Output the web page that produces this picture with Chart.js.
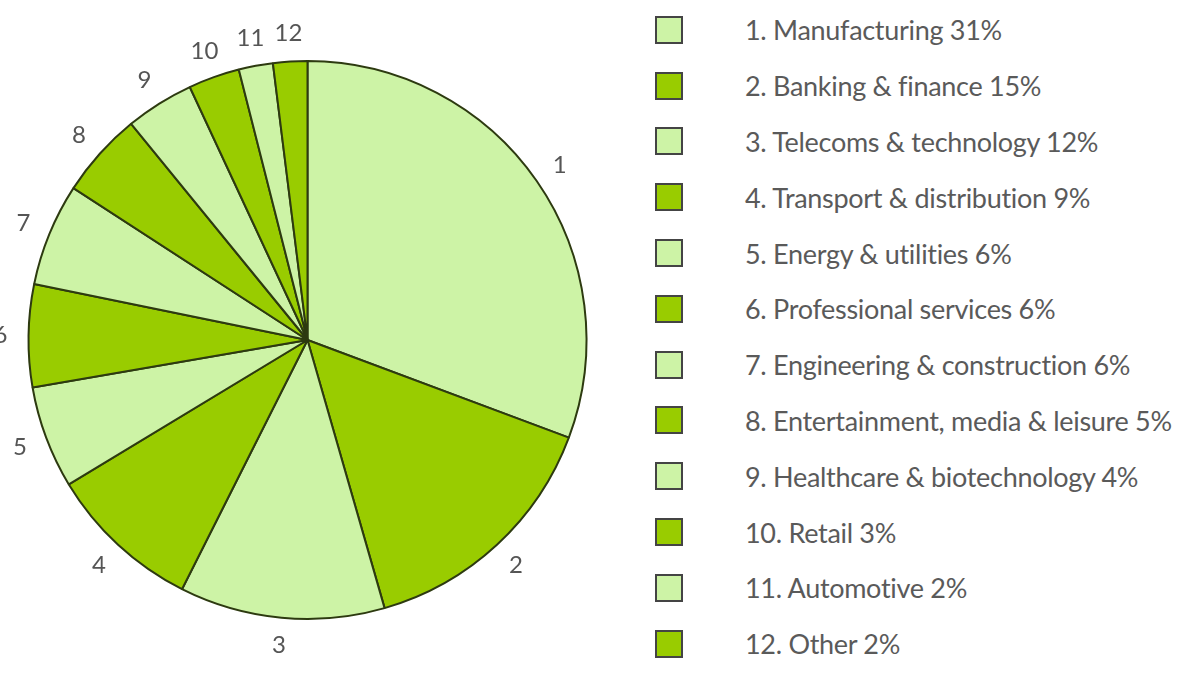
<!DOCTYPE html>
<html>
<head>
<meta charset="utf-8">
<script src="https://cdn.jsdelivr.net/npm/chart.js@4"></script>
<style>
  body { margin: 0; width: 1200px; height: 675px; background: #fff; overflow: hidden; position: relative; font-family: "Lato", sans-serif; }
  #wrap { position: absolute; left: 0; top: 0; width: 615px; height: 675px; }
  #legend { position: absolute; left: 655px; top: 2px; }
  .row { height: 55.8px; display: flex; align-items: center; }
  .box { width: 28px; height: 28px; border: 2px solid #444; box-sizing: border-box; margin-right: 62px; }
  .txt { font-size: 27px; color: #5a5a5a; white-space: nowrap; letter-spacing: -0.3px; }
</style>
</head>
<body>
<div id="wrap"><canvas id="chart"></canvas></div>
<div id="legend"></div>
<script>
const sectors = ["Manufacturing", "Banking & finance", "Telecoms & technology", "Transport & distribution",
  "Energy & utilities", "Professional services", "Engineering & construction",
  "Entertainment, media & leisure", "Healthcare & biotechnology", "Retail", "Automotive", "Other"];
const shares = [31, 15, 12, 9, 6, 6, 6, 5, 4, 3, 2, 2];
const sliceLabels = ["1", "2", "3", "4", "5", "6", "7", "8", "9", "10", "11", "12"];

const lightGreen = "#cdf3a6";
const darkGreen = "#99cc00";
const colors = shares.map((_, i) => (i % 2 === 0 ? lightGreen : darkGreen));

// legend on the right
let html = "";
sectors.forEach((s, i) => {
  html += `<div class="row"><div class="box" style="background:${colors[i]}"></div>` +
    `<div class="txt">${i + 1}. ${s} ${shares[i]}%</div></div>`;
});
document.getElementById("legend").innerHTML = html;

// numbers outside the slices
const outsideLabels = {
  id: "outsideLabels",
  afterDatasetsDraw(chart) {
    const ctx = chart.ctx;
    const arcs = chart.getDatasetMeta(0).data;
    ctx.save();
    ctx.font = "24px Lato, sans-serif";
    ctx.fillStyle = "#555";
    ctx.textAlign = "center";
    ctx.textBaseline = "middle";
    arcs.forEach((arc, i) => {
      const mid = (arc.startAngle + arc.endAngle) / 2;
      const r = arc.outerRadius + 28;
      ctx.fillText(sliceLabels[i], arc.x + Math.cos(mid) * r, arc.y + Math.sin(mid) * r);
    });
    ctx.restore();
  },
};

new Chart(document.getElementById("chart"), {
  type: "pie",
  data: {
    labels: sectors,
    datasets: [{
      data: shares,
      backgroundColor: colors,
      borderColor: "#2d3a10",
      borderWidth: 2,
    }],
  },
  options: {
    responsive: true,
    maintainAspectRatio: false,
    animation: false,
    layout: { padding: { top: 60, bottom: 55, left: 27, right: 27 } },
    plugins: { legend: { display: false }, tooltip: { enabled: false } },
  },
  plugins: [outsideLabels],
});
</script>
</body>
</html>
